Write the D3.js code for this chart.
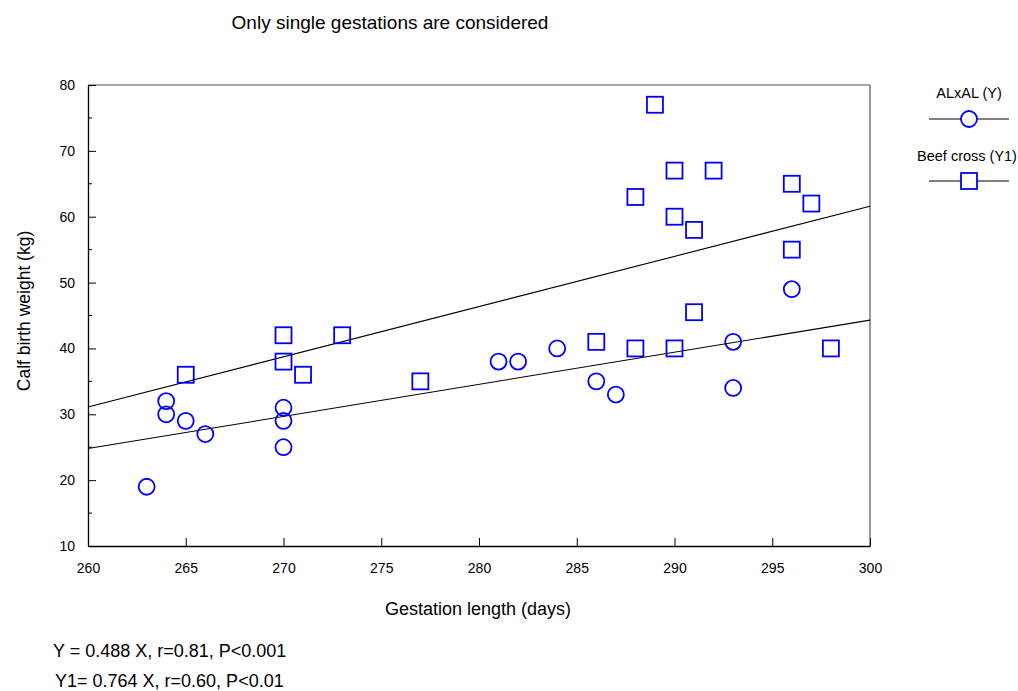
<!DOCTYPE html>
<html>
<head>
<meta charset="utf-8">
<script src="https://cdn.jsdelivr.net/npm/d3@7"></script>
<style>
  body { margin: 0; background: #fff; }
  text { font-family: "Liberation Sans", Arial, sans-serif; fill: #000; }
</style>
</head>
<body>
<div id="canvas"></div>
<script>
// ALxAL (Y)
const alX = [263, 264, 264, 265, 266, 270, 270, 270, 281, 282, 284, 286, 287, 293, 293, 296];
const alY = [19, 32, 30, 29, 27, 31, 29, 25, 38, 38, 40, 35, 33, 41, 34, 49];
// Beef cross (Y1)
const beefX = [265, 270, 270, 271, 273, 277, 286, 288, 288, 289, 290, 290, 290, 291, 291, 292, 296, 296, 297, 298];
const beefY = [36, 42, 38, 36, 42, 35, 41, 40, 63, 77, 67, 60, 40, 58, 45.5, 67, 65, 55, 62, 40];
// regression lines, value at x=260 and x=300
const fitX = [260, 300];
const alFit = [24.8, 44.3];
const beefFit = [31.1, 61.6];

const xTicks = [260, 265, 270, 275, 280, 285, 290, 295, 300];
const yTicks = [10, 20, 30, 40, 50, 60, 70, 80];
const yMinor = [15, 25, 35, 45, 55, 65, 75];

const width = 1018, height = 691;
const margin = {top: 85, left: 88, bottom: 145, right: 148};
const iwidth = width - margin.left - margin.right;
const iheight = height - margin.top - margin.bottom;

const svg = d3.select("#canvas").append("svg")
    .attr("width", width)
    .attr("height", height);

const g = svg.append("g").attr("transform", `translate(${margin.left},${margin.top})`);

const x = d3.scaleLinear().domain([260, 300]).range([0, iwidth]);
const y = d3.scaleLinear().domain([10, 80]).range([iheight, 0]);

// frame top/right
g.append("line").attr("x1", 0).attr("x2", iwidth).attr("y1", 0).attr("y2", 0)
    .attr("stroke", "#555").attr("stroke-width", 1.2);
g.append("line").attr("x1", iwidth).attr("x2", iwidth).attr("y1", 0).attr("y2", iheight)
    .attr("stroke", "#555").attr("stroke-width", 1.2);

// axes, ticks inside
const xAxis = g.append("g")
    .attr("transform", `translate(0,${iheight})`)
    .call(d3.axisBottom(x).tickValues(xTicks).tickSizeInner(-8).tickSizeOuter(0));
const yAxis = g.append("g")
    .call(d3.axisLeft(y).tickValues(yTicks).tickSizeInner(-8).tickSizeOuter(0));
yAxis.selectAll(".minor").data(yMinor).enter().append("line")
    .attr("class", "minor")
    .attr("x1", 0).attr("x2", 4)
    .attr("y1", d => y(d)).attr("y2", d => y(d))
    .attr("stroke", "#000");
[xAxis, yAxis].forEach(a => {
    a.attr("font-size", 14).attr("font-family", "Liberation Sans, Arial, sans-serif");
    a.select(".domain").attr("stroke", "#000").attr("stroke-width", 1.3);
});
yAxis.selectAll(".tick text").attr("x", -13);
xAxis.selectAll(".tick text").attr("dy", "0.71em").attr("y", 17);

// regression lines
const line = d3.line().x(d => x(d[0])).y(d => y(d[1]));
[alFit, beefFit].forEach(f => {
    g.append("path")
        .datum(fitX.map((v, i) => [v, f[i]]))
        .attr("d", line)
        .attr("fill", "none")
        .attr("stroke", "#000")
        .attr("stroke-width", 1.1);
});

const blue = "#0000ff";
const r = 8, s = 16;

g.selectAll("circle.al").data(alX.map((v, i) => [v, alY[i]])).enter().append("circle")
    .attr("class", "al")
    .attr("cx", d => x(d[0])).attr("cy", d => y(d[1])).attr("r", r)
    .attr("fill", "none").attr("stroke", blue).attr("stroke-width", 1.8);

g.selectAll("rect.beef").data(beefX.map((v, i) => [v, beefY[i]])).enter().append("rect")
    .attr("class", "beef")
    .attr("x", d => x(d[0]) - s / 2).attr("y", d => y(d[1]) - s / 2)
    .attr("width", s).attr("height", s)
    .attr("fill", "none").attr("stroke", blue).attr("stroke-width", 1.8);

// labels
svg.append("text").attr("x", 390).attr("y", 29).attr("text-anchor", "middle")
    .style("font-size", "19px").text("Only single gestations are considered");
svg.append("text").attr("x", 478).attr("y", 615).attr("text-anchor", "middle")
    .style("font-size", "18px").text("Gestation length (days)");
svg.append("text").attr("transform", "translate(30,311) rotate(-90)").attr("text-anchor", "middle")
    .style("font-size", "17.5px").text("Calf birth weight (kg)");

// legend
const leg = svg.append("g");
leg.append("text").attr("x", 969).attr("y", 98).attr("text-anchor", "middle")
    .style("font-size", "14.5px").text("ALxAL (Y)");
leg.append("line").attr("x1", 929).attr("x2", 1009).attr("y1", 119).attr("y2", 119).attr("stroke", "#000");
leg.append("circle").attr("cx", 969).attr("cy", 119).attr("r", r)
    .attr("fill", "#fff").attr("stroke", blue).attr("stroke-width", 1.8);
leg.append("text").attr("x", 967).attr("y", 161).attr("text-anchor", "middle")
    .style("font-size", "14.5px").text("Beef cross (Y1)");
leg.append("line").attr("x1", 929).attr("x2", 1009).attr("y1", 181).attr("y2", 181).attr("stroke", "#000");
leg.append("rect").attr("x", 969 - s / 2).attr("y", 181 - s / 2).attr("width", s).attr("height", s)
    .attr("fill", "#fff").attr("stroke", blue).attr("stroke-width", 1.8);

// footnotes
svg.append("text").attr("x", 53).attr("y", 657).style("font-size", "18px")
    .text("Y = 0.488 X, r=0.81, P<0.001");
svg.append("text").attr("x", 55).attr("y", 687).style("font-size", "18px")
    .text("Y1= 0.764 X, r=0.60, P<0.01");
</script>
</body>
</html>
